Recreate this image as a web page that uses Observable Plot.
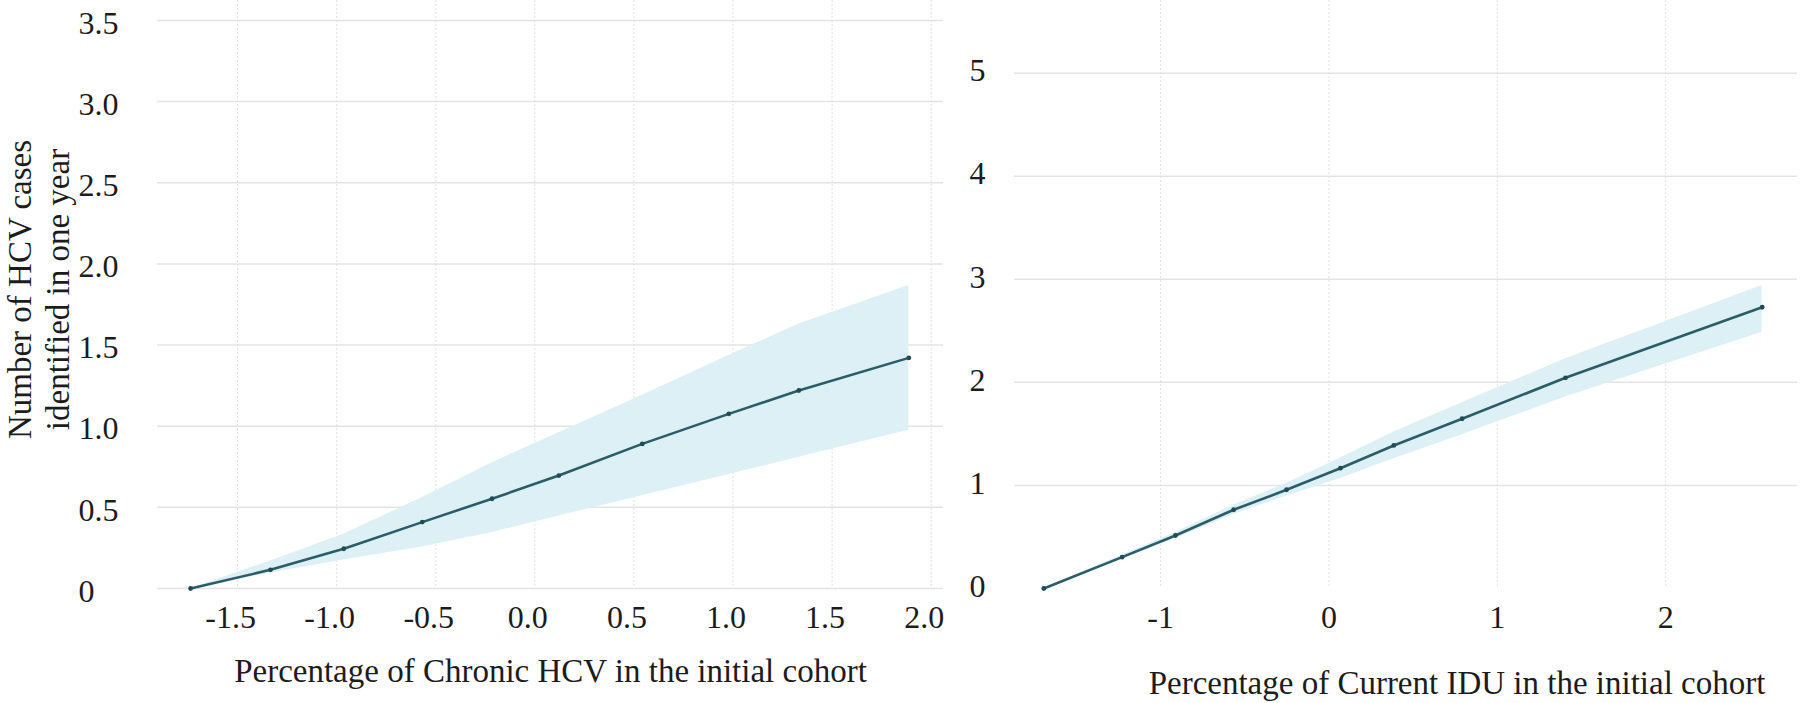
<!DOCTYPE html>
<html><head><meta charset="utf-8">
<script src="https://cdn.jsdelivr.net/npm/d3@7"></script>
<script src="https://cdn.jsdelivr.net/npm/@observablehq/plot@0.6"></script>
<style>
html,body{margin:0;padding:0;background:#fff;}
#wrap{position:relative;width:1800px;height:703px;overflow:hidden;background:#fff;}
#left{position:absolute;left:0;top:0;width:945px;height:703px;}
#right{position:absolute;left:945px;top:0;width:855px;height:703px;}
</style></head><body>
<div id="wrap"><div id="left"></div><div id="right"></div></div>
<script>
// ---- Left panel: Chronic HCV ----
const hcvX    = [-1.737, -1.334, -0.964, -0.568, -0.216, 0.121, 0.542, 0.979, 1.332, 1.887];
const hcvY    = [0, 0.115, 0.245, 0.409, 0.553, 0.696, 0.891, 1.076, 1.220, 1.421];
const hcvLow  = [0, 0.095, 0.175, 0.255, 0.345, 0.446, 0.572, 0.703, 0.808, 0.975];
const hcvHigh = [0, 0.170, 0.335, 0.560, 0.775, 0.960, 1.190, 1.435, 1.630, 1.867];
const hcvXTicks  = [-1.5, -1.0, -0.5, 0.0, 0.5, 1.0, 1.5, 2.0];
const hcvXLabels = ["-1.5", "-1.0", "-0.5", "0.0", "0.5", "1.0", "1.5", "2.0"];
const hcvYTicks  = [0, 0.5, 1.0, 1.5, 2.0, 2.5, 3.0, 3.5];
const hcvYLabels = ["0", "0.5", "1.0", "1.5", "2.0", "2.5", "3.0", "3.5"];
const hcvXTitle = "Percentage of Chronic HCV in the initial cohort";
const yTitle = "Number of HCV cases\nidentified in one year";

// ---- Right panel: Current IDU ----
const iduX    = [-1.694, -1.229, -0.912, -0.566, -0.252, 0.068, 0.385, 0.791, 1.405, 2.573];
const iduY    = [0, 0.304, 0.514, 0.764, 0.958, 1.167, 1.388, 1.647, 2.044, 2.729];
const iduLow  = [0, 0.284, 0.484, 0.719, 0.898, 1.067, 1.258, 1.492, 1.859, 2.487];
const iduHigh = [0, 0.324, 0.544, 0.809, 1.018, 1.267, 1.518, 1.802, 2.229, 2.940];
const iduXTicks  = [-1, 0, 1, 2];
const iduXLabels = ["-1", "0", "1", "2"];
const iduYTicks  = [0, 1, 2, 3, 4, 5];
const iduYLabels = ["0", "1", "2", "3", "4", "5"];
const iduXTitle = "Percentage of Current IDU in the initial cohort";

const lineColor = "#2b5d69";
const bandColor = "#dcf0f6";
const textColor = "#1c1c1c";
const fontFamily = "'Liberation Serif', 'Times New Roman', serif";

function lookup(ticks, labels) {
  const m = new Map(ticks.map((t, i) => [t, labels[i]]));
  return d => m.get(d) ?? String(d);
}

const hcv = hcvX.map((x, i) => ({x, y: hcvY[i], lo: hcvLow[i], hi: hcvHigh[i]}));
const idu = iduX.map((x, i) => ({x, y: iduY[i], lo: iduLow[i], hi: iduHigh[i]}));

const left = Plot.plot({
  width: 945, height: 703,
  marginLeft: 157, marginRight: 2, marginTop: 0, marginBottom: 115,
  style: {fontFamily, fontSize: "32px", color: textColor, background: "white", maxWidth: "none"},
  x: {domain: [-1.904, 2.062]},
  y: {domain: [0, 3.623]},
  marks: [
    Plot.gridY(hcvYTicks, {stroke: "#e4e4e4", strokeOpacity: 1, strokeWidth: 1.5}),
    Plot.gridX(hcvXTicks, {stroke: "#e0e0e0", strokeOpacity: 1, strokeWidth: 1, strokeDasharray: "2,2"}),
    Plot.areaY(hcv, {x: "x", y1: "lo", y2: "hi", fill: bandColor, fillOpacity: 1}),
    Plot.line(hcv, {x: "x", y: "y", stroke: lineColor, strokeWidth: 2.6}),
    Plot.dot(hcv, {x: "x", y: "y", r: 2.4, fill: "#1f4c57", stroke: null}),
    Plot.axisY(hcvYTicks, {tickSize: 0, tickPadding: 79, textAnchor: "start", dy: 3, fontSize: 32,
      tickFormat: lookup(hcvYTicks, hcvYLabels), label: null}),
    Plot.axisX(hcvXTicks, {tickSize: 0, tickPadding: 17, dx: -7, fontSize: 32,
      tickFormat: lookup(hcvXTicks, hcvXLabels), label: null}),
    Plot.text([hcvXTitle], {frameAnchor: "bottom", lineAnchor: "top", dy: 70, fontSize: 33, fill: textColor}),
    Plot.text([yTitle], {frameAnchor: "left", rotate: -90, lineAnchor: "middle", textAnchor: "middle",
      lineHeight: 1.18, dx: -120, dy: -5, fontSize: 33, fill: textColor})
  ]
});
document.getElementById("left").appendChild(left);

const right = Plot.plot({
  width: 855, height: 703,
  marginLeft: 69, marginRight: 3, marginTop: 0, marginBottom: 115,
  style: {fontFamily, fontSize: "32px", color: textColor, background: "white", maxWidth: "none"},
  x: {domain: [-1.868, 2.783]},
  y: {domain: [0, 5.705]},
  marks: [
    Plot.gridY(iduYTicks.filter(d => d > 0), {stroke: "#e4e4e4", strokeOpacity: 1, strokeWidth: 1.5}),
    Plot.gridX(iduXTicks, {stroke: "#e0e0e0", strokeOpacity: 1, strokeWidth: 1, strokeDasharray: "2,2"}),
    Plot.areaY(idu, {x: "x", y1: "lo", y2: "hi", fill: bandColor, fillOpacity: 1}),
    Plot.line(idu, {x: "x", y: "y", stroke: lineColor, strokeWidth: 2.6}),
    Plot.dot(idu, {x: "x", y: "y", r: 2.4, fill: "#1f4c57", stroke: null}),
    Plot.axisY(iduYTicks, {tickSize: 0, tickPadding: 37, textAnchor: "middle", dy: -2, fontSize: 32,
      tickFormat: lookup(iduYTicks, iduYLabels), label: null}),
    Plot.axisX(iduXTicks, {tickSize: 0, tickPadding: 17, fontSize: 32,
      tickFormat: lookup(iduXTicks, iduXLabels), label: null}),
    Plot.text([iduXTitle], {frameAnchor: "bottom", lineAnchor: "top", dx: 51, dy: 82, fontSize: 33, fill: textColor})
  ]
});
document.getElementById("right").appendChild(right);
</script>
</body></html>
